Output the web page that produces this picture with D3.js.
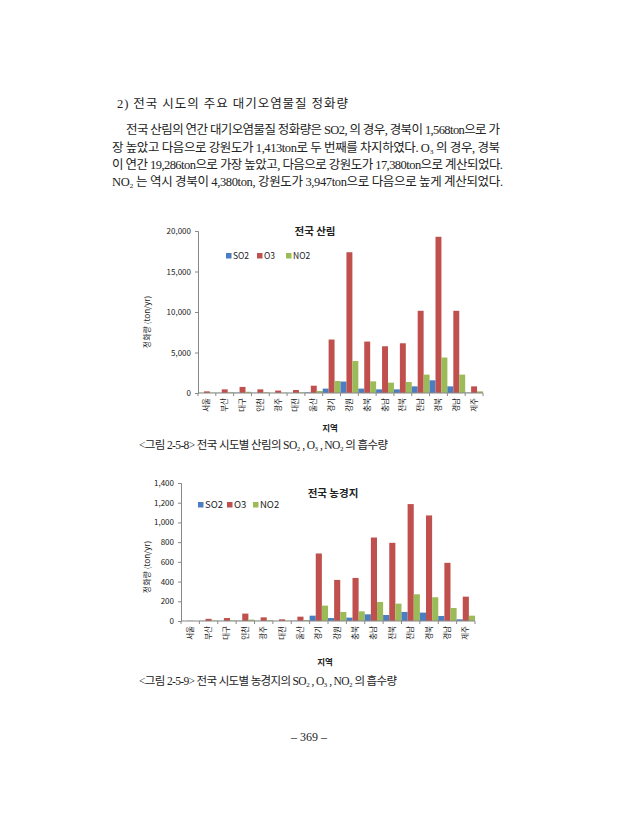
<!DOCTYPE html>
<html><head><meta charset="utf-8">
<script src="https://cdn.jsdelivr.net/npm/d3@7"></script>
<style>
html,body{margin:0;padding:0;background:#fff;}
svg{display:block;}
.body{font-family:"Liberation Serif","Noto Sans CJK KR",serif;fill:#222;}
.ch{font-family:"Noto Sans CJK KR","Noto Sans",sans-serif;fill:#222;}
</style></head>
<body>
<script>
const regions = ['서울','부산','대구','인천','광주','대전','울산','경기','강원','충북','충남','전북','전남','경북','경남','제주'];
const seriesNames = ['SO2','O3','NO2'];
const seriesColors = ['#4A7EC0','#C0504D','#9BBB59'];

const forestSO2 = [20,30,50,30,20,20,80,540,1413,540,450,450,820,1568,820,50];
const forestO3  = [200,450,750,450,300,370,900,6600,17380,6350,5770,6140,10150,19286,10150,820];
const forestNO2 = [50,100,150,100,50,80,250,1480,3947,1440,1280,1360,2270,4380,2270,200];
const forestTicks = [0,5000,10000,15000,20000];

const farmSO2 = [0,2,2,3,2,1,3,54,30,34,68,61,92,85,51,17];
const farmO3  = [2,22,30,75,37,17,44,685,417,437,847,793,1186,1071,590,247];
const farmNO2 = [0,5,6,14,8,4,10,156,92,98,193,176,271,241,132,54];
const farmTicks = [0,200,400,600,800,1000,1200,1400];

const textLines = [
  {t:'2) 전국 시도의 주요 대기오염물질 정화량', x:117, y:108, w:231, fs:12.5},
  {t:'전국 산림의 연간 대기오염물질 정화량은 SO2, 의 경우, 경북이 1,568ton으로 가', x:126, y:134, w:374, fs:12.5},
  {t:'장 높았고 다음으로 강원도가 1,413ton로 두 번째를 차지하였다. O₃ 의 경우, 경북', x:112, y:152, w:388, fs:12.5},
  {t:'이 연간 19,286ton으로 가장 높았고, 다음으로 강원도가 17,380ton으로 계산되었다.', x:112, y:169, w:391, fs:12.5},
  {t:'NO₂ 는 역시 경북이 4,380ton, 강원도가 3,947ton으로 다음으로 높게 계산되었다.', x:112, y:186, w:391, fs:12.5}
];

const svg = d3.select('body').append('svg').attr('width',618).attr('height',840);
svg.append('rect').attr('width',618).attr('height',840).attr('fill','#fff');

textLines.forEach(l=>{
  svg.append('text').attr('class','body').attr('x',l.x).attr('y',l.y)
    .attr('font-size',l.fs).attr('textLength',l.w).attr('lengthAdjust','spacing').text(l.t);
});

function drawChart(o){
  const x = d3.scaleBand().domain(regions).range([o.x0,o.x1]).paddingInner(0).paddingOuter(0);
  const xs = d3.scaleBand().domain(seriesNames).range([0,x.bandwidth()]).padding(0);
  const y = d3.scaleLinear().domain([0,o.max]).range([o.y0,o.y1]);
  const g = svg.append('g');
  const data = [o.so2,o.o3,o.no2];
  regions.forEach((r,i)=>{
    seriesNames.forEach((s,j)=>{
      const v = data[j][i];
      g.append('rect').attr('x',x(r)+xs(s)).attr('width',xs.bandwidth())
        .attr('y',y(v)).attr('height',Math.max(0,y(0)-y(v))).attr('fill',seriesColors[j]);
    });
  });
  // y axis
  const ya = d3.axisLeft(y).tickValues(o.ticks).tickSize(3).tickPadding(4).tickFormat(d3.format(','));
  const yg = g.append('g').attr('transform',`translate(${o.x0},0)`).call(ya);
  yg.select('.domain').attr('stroke','#888');
  yg.selectAll('.tick line').attr('stroke','#888');
  yg.selectAll('.tick text').attr('class','ch').attr('font-size',o.tfs).attr('fill','#222');
  // x axis
  const xg = g.append('g').attr('transform',`translate(0,${o.y0})`);
  xg.append('line').attr('x1',o.x0).attr('x2',o.x1).attr('stroke','#888');
  regions.forEach((r,i)=>{
    xg.append('line').attr('x1',x(r)+x.bandwidth()).attr('x2',x(r)+x.bandwidth()).attr('y1',0).attr('y2',3).attr('stroke','#888');
  });
  xg.append('line').attr('x1',o.x0).attr('x2',o.x0).attr('y1',0).attr('y2',3).attr('stroke','#888');
  regions.forEach(r=>{
    xg.append('text').attr('class','ch').attr('font-size',7.5)
      .attr('transform',`translate(${x(r)+x.bandwidth()/2+2.5},5) rotate(-90)`)
      .attr('text-anchor','end').text(r);
  });
  // title
  svg.append('text').attr('class','ch').attr('x',o.tx).attr('y',o.ty).attr('text-anchor','middle')
    .attr('font-size',10.5).attr('font-weight','bold').text(o.title);
  // legend
  o.leg.forEach((lx,j)=>{
    svg.append('rect').attr('x',lx).attr('y',o.ly-3).attr('width',5.5).attr('height',5.5).attr('fill',seriesColors[j]);
    svg.append('text').attr('class','ch').attr('x',lx+7).attr('y',o.ly+3).attr('font-size',o.lfs).text(seriesNames[j]);
  });
  // y title
  svg.append('text').attr('class','ch').attr('transform',`translate(${o.ytx},${o.yty}) rotate(-90)`)
    .attr('text-anchor','middle').attr('font-size',8).text('정화량 (ton/yr)');
  // x title
  svg.append('text').attr('class','ch').attr('x',o.xtx).attr('y',o.xty).attr('text-anchor','middle')
    .attr('font-size',8.5).attr('font-weight','bold').text('지역');
  // caption
  svg.append('text').attr('class','body').attr('x',o.cx).attr('y',o.cy).attr('font-size',11.5)
    .attr('textLength',o.cw).attr('lengthAdjust','spacing').text(o.caption);
}

drawChart({x0:198,x1:483,y0:393,y1:231,max:20000,ticks:forestTicks,so2:forestSO2,o3:forestO3,no2:forestNO2,
  tfs:8,title:'전국 산림',tx:315,ty:235,leg:[226,257,286],ly:256,lfs:8.5,ytx:150,yty:322,xtx:330,xty:431,
  caption:'<그림 2-5-8> 전국 시도별 산림의 SO₂ , O₃ , NO₂ 의 흡수량',cx:139,cy:449,cw:249});

drawChart({x0:181,x1:475,y0:621,y1:483,max:1400,ticks:farmTicks,so2:farmSO2,o3:farmO3,no2:farmNO2,
  tfs:8,title:'전국 농경지',tx:333,ty:497,leg:[198,227,253],ly:505,lfs:9.5,ytx:150,yty:567,xtx:325,xty:665,
  caption:'<그림 2-5-9> 전국 시도별 농경지의 SO₂ , O₃ , NO₂ 의 흡수량',cx:139,cy:685,cw:258});

svg.append('text').attr('class','body').attr('x',309).attr('y',741).attr('text-anchor','middle')
  .attr('font-size',12).text('– 369 –');
</script>
</body></html>
